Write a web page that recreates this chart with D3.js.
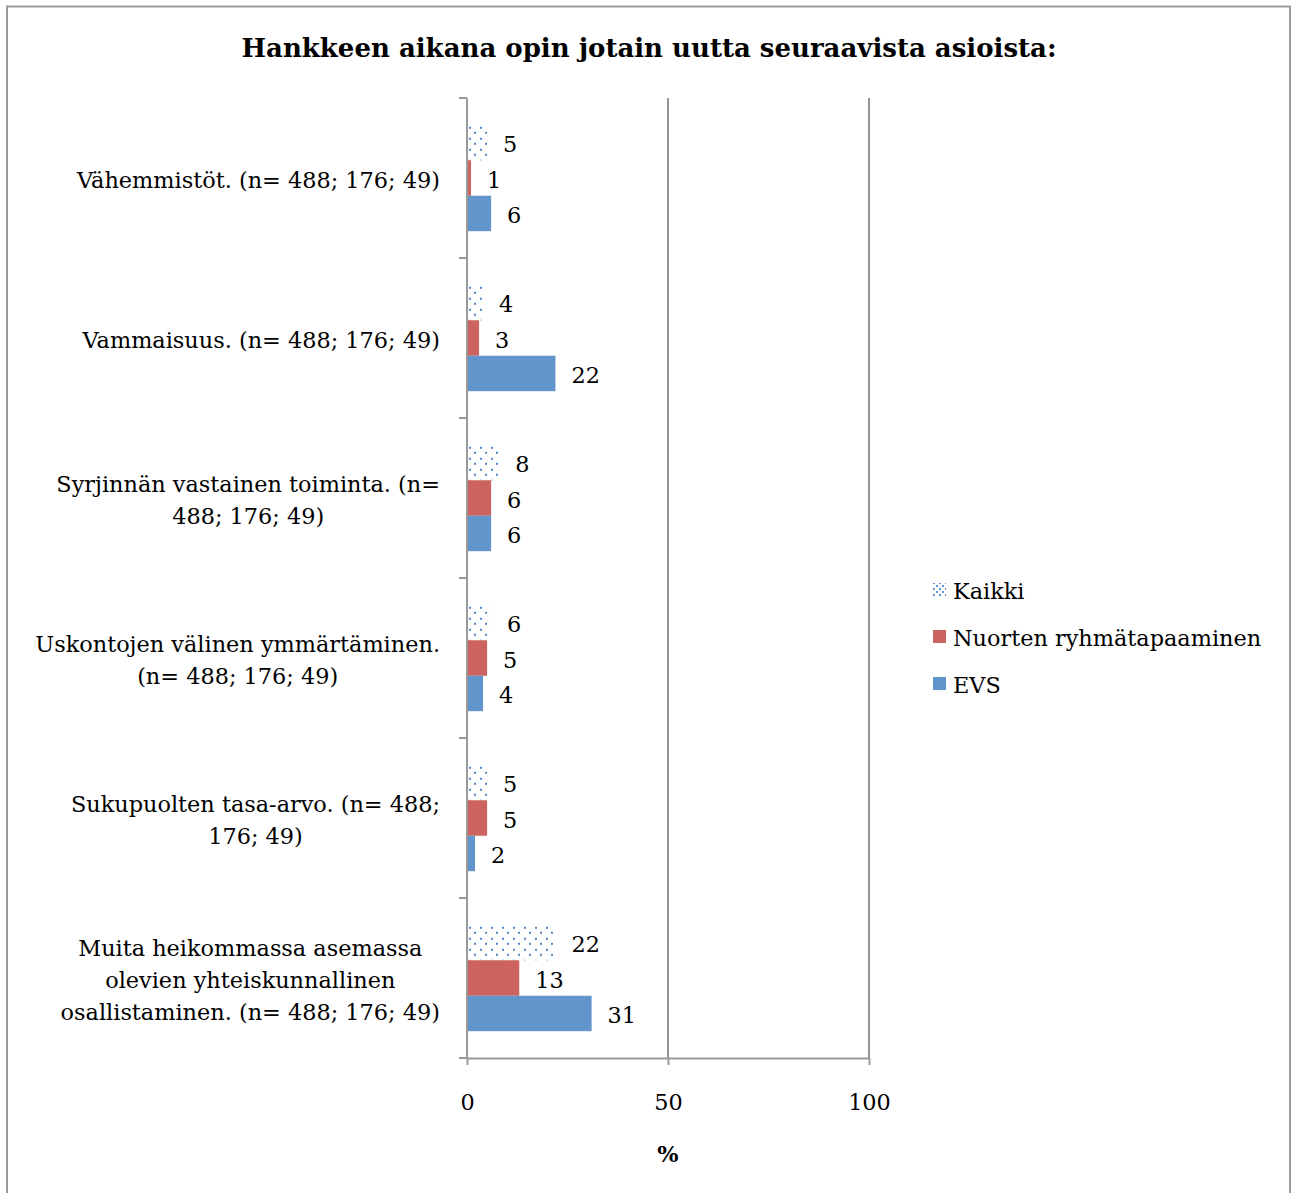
<!DOCTYPE html>
<html>
<head>
<meta charset="utf-8">
<script src="https://cdn.jsdelivr.net/npm/d3@7"></script>
<style>
  html, body { margin: 0; padding: 0; background: #fff; }
  svg { display: block; }
  text { font-family: "DejaVu Serif", "Liberation Serif", serif; fill: #000; }
</style>
</head>
<body>
<svg id="chart" width="1292" height="1193"></svg>
<script>
const title = "Hankkeen aikana opin jotain uutta seuraavista asioista:";
const categories = [
  ["Vähemmistöt. (n= 488; 176; 49)"],
  ["Vammaisuus. (n= 488; 176; 49)"],
  ["Syrjinnän vastainen toiminta. (n=", "488; 176; 49)"],
  ["Uskontojen välinen ymmärtäminen.", "(n= 488; 176; 49)"],
  ["Sukupuolten tasa-arvo. (n= 488;", "176; 49)"],
  ["Muita heikommassa asemassa", "olevien yhteiskunnallinen", "osallistaminen. (n= 488; 176; 49)"]
];
const seriesNames = ["Kaikki", "Nuorten ryhmätapaaminen", "EVS"];
const kaikki = [5, 4, 8, 6, 5, 22];
const nuorten = [1, 3, 6, 5, 5, 13];
const evs = [6, 22, 6, 4, 2, 31];
const xTicks = [0, 50, 100];
const xTitle = "%";

const seriesValues = [kaikki, nuorten, evs];
const colors = ["url(#dots)", "#CD635E", "#6195CB"];
const legendColors = ["url(#dotsSmall)", "#CD635E", "#6195CB"];
const FS = 22.4;

const svg = d3.select("#chart");

// pattern
const defs = svg.append("defs");
const pat = defs.append("pattern").attr("id", "dots").attr("patternUnits", "userSpaceOnUse")
  .attr("width", 11).attr("height", 11).attr("x", 467).attr("y", 0);
pat.append("rect").attr("width", 11).attr("height", 11).attr("fill", "#fff");
pat.append("rect").attr("x", 2).attr("y", 2).attr("width", 2).attr("height", 2).attr("fill", "#4F86C6");
pat.append("rect").attr("x", 7).attr("y", 7).attr("width", 2).attr("height", 2).attr("fill", "#4F86C6");
const pat2 = defs.append("pattern").attr("id", "dotsSmall").attr("patternUnits", "userSpaceOnUse")
  .attr("width", 6).attr("height", 6).attr("x", 933).attr("y", 0);
pat2.append("rect").attr("width", 6).attr("height", 6).attr("fill", "#fff");
pat2.append("rect").attr("x", 0).attr("y", 0).attr("width", 2).attr("height", 2).attr("fill", "#6195CB");
pat2.append("rect").attr("x", 3).attr("y", 3).attr("width", 2).attr("height", 2).attr("fill", "#6195CB");

// outer border
svg.append("rect").attr("x", 7).attr("y", 6.5).attr("width", 1283).attr("height", 1190)
  .attr("fill", "#fff").attr("stroke", "#9a9a9a").attr("stroke-width", 2);

// title
svg.append("text").attr("x", 649).attr("y", 57).attr("text-anchor", "middle")
  .attr("font-weight", "bold").attr("font-size", 26).text(title);

const x = d3.scaleLinear().domain([0, 100]).range([467, 869]);
const y = d3.scaleBand().domain(d3.range(categories.length)).range([98, 1058]).paddingInner(0.335).paddingOuter(0.1675);
const yInner = d3.scaleBand().domain(d3.range(seriesNames.length)).range([0, y.bandwidth()]);
const yStep = d3.scaleLinear().domain([0, categories.length]).range([98, 1058]);

// gridlines
svg.append("g").selectAll("line").data(xTicks.filter(d => d > 0)).join("line")
  .attr("x1", d => x(d)).attr("x2", d => x(d)).attr("y1", 98).attr("y2", 1058)
  .attr("stroke", "#949494").attr("stroke-width", 2);

// bars
const groups = svg.append("g").selectAll("g").data(categories).join("g")
  .attr("transform", (d, i) => `translate(0,${y(i)})`);
groups.each(function(c, i) {
  const g = d3.select(this);
  seriesValues.forEach((vals, s) => {
    g.append("rect").attr("x", x(0)).attr("y", yInner(s))
      .attr("width", x(vals[i]) - x(0)).attr("height", yInner.bandwidth())
      .attr("fill", colors[s]);
    g.append("text").attr("x", x(vals[i]) + 16).attr("y", yInner(s) + yInner.bandwidth() / 2 + 2)
      .attr("dy", "0.35em").attr("font-size", FS).text(vals[i]);
  });
});

// y axis
const yAxisG = svg.append("g");
yAxisG.append("line").attr("x1", 467).attr("x2", 467).attr("y1", 98).attr("y2", 1058)
  .attr("stroke", "#9a9a9a").attr("stroke-width", 2);
yAxisG.selectAll("line.tick").data(d3.range(categories.length + 1)).join("line").attr("class", "tick")
  .attr("x1", 459).attr("x2", 467).attr("y1", d => yStep(d)).attr("y2", d => yStep(d))
  .attr("stroke", "#9a9a9a").attr("stroke-width", 2);

// category labels: block right-aligned, lines centered inside block
categories.forEach((lines, i) => {
  const cy = yStep(i + 0.5) + 2;
  const t = svg.append("text").attr("text-anchor", "middle").attr("font-size", FS);
  const lh = 32;
  const spans = lines.map((ln, j) =>
    t.append("tspan").attr("y", cy + (j - (lines.length - 1) / 2) * lh).attr("dy", "0.35em").text(ln));
  const maxW = d3.max(spans, s => s.node().getComputedTextLength());
  const cx = 440 - maxW / 2;
  spans.forEach(s => s.attr("x", cx));
});

// x axis
const xAxis = d3.axisBottom(x).tickValues(xTicks).tickSize(7).tickPadding(29).tickSizeOuter(0);
const xg = svg.append("g").attr("transform", "translate(0,1058)").call(xAxis);
xg.select(".domain").attr("stroke", "#9a9a9a").attr("stroke-width", 2);
xg.selectAll(".tick line").attr("stroke", "#9a9a9a").attr("stroke-width", 2);
xg.selectAll(".tick text").attr("font-size", FS).attr("font-family", "DejaVu Serif, Liberation Serif, serif").attr("fill", "#000");

svg.append("text").attr("x", x(50)).attr("y", 1162).attr("text-anchor", "middle")
  .attr("font-weight", "bold").attr("font-size", FS).text(xTitle);

// legend
const leg = svg.append("g");
seriesNames.forEach((n, i) => {
  const ly = 590 + i * 47;
  leg.append("rect").attr("x", 933).attr("y", ly - 7).attr("width", 13).attr("height", 13).attr("fill", legendColors[i]);
  leg.append("text").attr("x", 953).attr("y", ly + 1).attr("dy", "0.35em").attr("font-size", FS).text(n);
});
</script>
</body>
</html>
